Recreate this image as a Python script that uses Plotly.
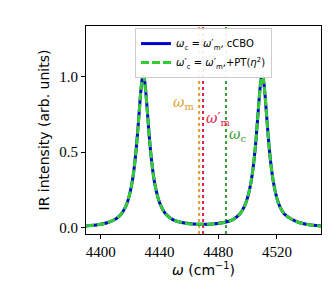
import plotly.graph_objects as go

# Spectrum samples (frequency in cm^-1, intensity in arb. units)
freq = [4390, 4395, 4400, 4405, 4410, 4414, 4417, 4419, 4421, 4422.5, 4424, 4425, 4426,
        4427, 4427.5, 4428, 4428.5, 4429, 4429.5, 4430, 4430.5, 4431, 4432, 4433, 4434,
        4435.5, 4437, 4439, 4441, 4444, 4449, 4456, 4463, 4469.5, 4476, 4483, 4490,
        4495, 4498, 4500, 4502, 4503.5, 4505, 4506, 4507, 4508, 4508.5, 4509, 4509.5,
        4510, 4510.5, 4511, 4511.5, 4512, 4513, 4514, 4515, 4516.5, 4518, 4520, 4522,
        4525, 4530, 4535, 4540, 4545, 4550]
ir_cbo = [0.012, 0.017, 0.024, 0.036, 0.057, 0.092, 0.140, 0.195, 0.280, 0.373, 0.503, 0.613, 0.738,
          0.865, 0.920, 0.965, 0.993, 1.000, 0.993, 0.966, 0.920, 0.866, 0.739, 0.614, 0.504,
          0.376, 0.283, 0.200, 0.145, 0.095, 0.055, 0.034, 0.026, 0.024, 0.026, 0.034, 0.055,
          0.095, 0.145, 0.200, 0.283, 0.376, 0.504, 0.614, 0.739, 0.866, 0.920, 0.966, 0.993,
          1.000, 0.993, 0.965, 0.920, 0.865, 0.738, 0.613, 0.503, 0.373, 0.280, 0.195, 0.140,
          0.092, 0.057, 0.036, 0.024, 0.017, 0.012]
ir_pt = [0.012, 0.017, 0.024, 0.036, 0.057, 0.092, 0.140, 0.195, 0.280, 0.373, 0.503, 0.613, 0.738,
         0.865, 0.920, 0.965, 0.993, 1.000, 0.993, 0.966, 0.920, 0.866, 0.739, 0.614, 0.504,
         0.376, 0.283, 0.200, 0.145, 0.095, 0.055, 0.034, 0.026, 0.024, 0.026, 0.034, 0.055,
         0.095, 0.145, 0.200, 0.283, 0.376, 0.504, 0.614, 0.739, 0.866, 0.920, 0.966, 0.993,
         1.000, 0.993, 0.965, 0.920, 0.865, 0.738, 0.613, 0.503, 0.373, 0.280, 0.195, 0.140,
         0.092, 0.057, 0.036, 0.024, 0.017, 0.012]

# Reference frequencies (vertical markers)
marker_names = ["<i>ω</i><sub>m</sub>", "<i>ω</i>′<sub>m</sub>", "<i>ω</i><sub>c</sub>"]
marker_freq = [4467.0, 4469.7, 4485.3]
marker_label_y = [0.826, 0.716, 0.612]
marker_colors = ["#e0a030", "#e0204a", "#3a9a3a"]

x_ticks = [4400, 4440, 4480, 4520]
y_ticks = [0.0, 0.5, 1.0]
y_tick_labels = ["0.0", "0.5", "1.0"]

fig = go.Figure()

for f, c in zip(marker_freq, marker_colors):
    fig.add_vline(x=f, line=dict(color=c, width=2, dash="dot"), layer="below")

fig.add_trace(go.Scatter(
    x=freq, y=ir_cbo, mode="lines", line=dict(color="#0000d0", width=3, shape="spline"),
    name="<i>ω</i><sub>c</sub> = <i>ω</i>′<sub>m</sub>, cCBO"))
fig.add_trace(go.Scatter(
    x=freq, y=ir_pt, mode="lines", line=dict(color="#33cc33", width=3, dash="8px,3px", shape="spline"),
    name="<i>ω</i>′<sub>c</sub> = <i>ω</i>′<sub>m</sub>,+PT(<i>η</i><sup>2</sup>)"))

# marker labels
anchors = ["right", "left", "left"]
offsets = [-3, 1, 1]
for name, f, yv, c, a, o in zip(marker_names, marker_freq, marker_label_y, marker_colors, anchors, offsets):
    fig.add_annotation(x=f, y=yv, text=name, showarrow=False, xanchor=a, xshift=o,
                       font=dict(family="DejaVu Serif", size=14, color=c))

fig.update_layout(
    width=332, height=291,
    margin=dict(l=78, r=19, t=18, b=65),
    paper_bgcolor="white", plot_bgcolor="white",
    font=dict(family="DejaVu Sans", size=13, color="black"),
    showlegend=True,
    legend=dict(x=0.5, y=0.99, xanchor="center", yanchor="top",
                bgcolor="rgba(255,255,255,0.9)", bordercolor="#cccccc", borderwidth=1,
                font=dict(size=10), tracegroupgap=0, itemwidth=30),
)
fig.update_xaxes(
    range=[4390, 4550], tickvals=x_ticks, ticks="outside", ticklen=4, tickcolor="black",
    showline=True, linecolor="black", linewidth=1, mirror=True, showgrid=False, zeroline=False,
    tickfont=dict(family="Liberation Serif", size=15), automargin=False,
    title=dict(text="<i>ω</i> (cm<sup>−1</sup>)", font=dict(size=14), standoff=1),
)
fig.update_yaxes(
    range=[-0.04, 1.333], tickvals=y_ticks, ticktext=y_tick_labels, ticks="outside", ticklen=4,
    tickcolor="black", showline=True, linecolor="black", linewidth=1, mirror=True,
    showgrid=False, zeroline=False, automargin=False,
    tickfont=dict(family="Liberation Serif", size=15),
    title=dict(text="IR intensity (arb. units)", font=dict(size=14), standoff=6),
)

fig.write_html("out.html")
